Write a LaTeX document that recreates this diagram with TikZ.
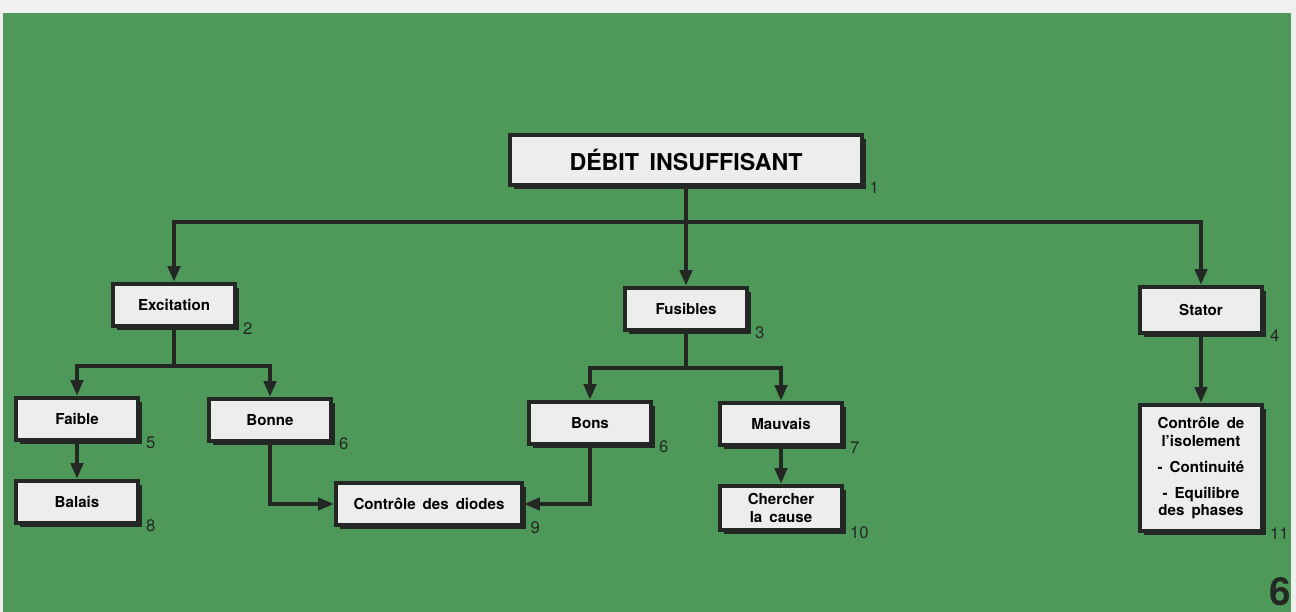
\documentclass[tikz,border=0pt]{standalone}
\usepackage{fontspec}
\setmainfont{TeX Gyre Heros}
\usetikzlibrary{arrows.meta, positioning, shadows}

\definecolor{panelgreen}{HTML}{4E995A}
\definecolor{boxfill}{HTML}{EDEDEB}
\definecolor{ink}{HTML}{232824}

\begin{document}
\begin{tikzpicture}[x=0.02cm, y=-0.02cm, >={Triangle[width=7pt,length=9pt]},
    box/.style={draw=ink, line width=2.2pt, fill=boxfill, inner sep=0pt,
                minimum width=2.43cm, minimum height=0.85cm, align=center,
                font=\bfseries\fontsize{8.6}{9.8}\selectfont,
                general shadow={fill=ink, shadow xshift=2.3pt, shadow yshift=-2.3pt}},
    num/.style={anchor=base west, text=ink, inner sep=0pt, font=\fontsize{9.5}{11}\selectfont},
    link/.style={draw=ink, line width=2.1pt}]

   % Background
      \useasboundingbox (0,0) rectangle (1296,612);
      \fill[white!94!black] (0,0) rectangle (1296,612);
      \fill[panelgreen] (3,13) rectangle (1291,612);

   % Nodes
      \node[box, minimum width=7.05cm, minimum height=1.01cm,
            font=\bfseries\fontsize{13.2}{15}\selectfont]  (debit)   at (686,160)  {DÉBIT\hspace{6pt}INSUFFISANT};
      \node[box]                                        (exc)     at (174,305)  {Excitation};
      \node[box]                                        (fus)     at (686,309)  {Fusibles};
      \node[box, minimum height=0.93cm]                 (stat)    at (1201,310) {Stator};
      \node[box]                                        (faible)  at (77,419)   {Faible};
      \node[box]                                        (bonne)   at (270,420)  {Bonne};
      \node[box]                                        (bons)    at (590,423)  {Bons};
      \node[box]                                        (mauv)    at (781,424)  {Mauvais};
      \node[box]                                        (balais)  at (77,502)   {Balais};
      \node[box, minimum width=3.73cm]                  (diodes)  at (429,504)  {Contrôle\hspace{4pt}des\hspace{4pt}diodes};
      \node[box, minimum height=0.89cm]                 (cause)   at (781,508)  {Chercher\\la\hspace{4pt}cause};
      \node[box, minimum height=2.53cm]                 (isol)    at (1201,468) {Contrôle\hspace{4pt}de\\l’isolement\\[5pt]
                                                                                   -\hspace{4pt}Continuité\\[5pt]
                                                                                   -\hspace{4pt}Equilibre\\des\hspace{4pt}phases};

   % Numbers
      \node[num] (debit-n)  at ([shift={(5,6)}]debit.south east)  {1};
      \node[num] (exc-n)    at ([shift={(6,6)}]exc.south east)    {2};
      \node[num] (fus-n)    at ([shift={(6,6)}]fus.south east)    {3};
      \node[num] (stat-n)   at ([shift={(6,6)}]stat.south east)   {4};
      \node[num] (faible-n) at ([shift={(6,6)}]faible.south east) {5};
      \node[num] (bonne-n)  at ([shift={(6,6)}]bonne.south east)  {6};
      \node[num] (bons-n)   at ([shift={(6,6)}]bons.south east)   {6};
      \node[num] (mauv-n)   at ([shift={(6,6)}]mauv.south east)   {7};
      \node[num] (balais-n) at ([shift={(6,6)}]balais.south east) {8};
      \node[num] (diodes-n) at ([shift={(6,6)}]diodes.south east) {9};
      \node[num] (cause-n)  at ([shift={(6,6)}]cause.south east)  {10};
      \node[num] (isol-n)   at ([shift={(6,6)}]isol.south east)   {11};
      \node[anchor=base east, text=ink, inner sep=0pt, font=\bfseries\fontsize{22}{24}\selectfont]
            (page) at (1291,605) {6};

   % Paths
      \coordinate (j1) at (686,222);
      \coordinate (j2) at (174,366);
      \coordinate (j3) at (686,368);
      \path[link] (debit) -- (j1);
      \path[link,->] (j1) -| (exc);
      \path[link,->] (j1) -- (fus);
      \path[link,->] (j1) -| (stat);
      \path[link] (exc) -- (j2);
      \path[link,->] (j2) -| (faible);
      \path[link,->] (j2) -| (bonne);
      \path[link] (fus) -- (j3);
      \path[link,->] (j3) -| (bons);
      \path[link,->] (j3) -| (mauv);
      \path[link,->] (faible) -- (balais);
      \path[link,->] (mauv) -- (cause);
      \path[link,->] (stat) -- (isol);
      \path[link,->] (bonne) |- (diodes);
      \path[link,->] (bons) |- (diodes);
\end{tikzpicture}
\end{document}
